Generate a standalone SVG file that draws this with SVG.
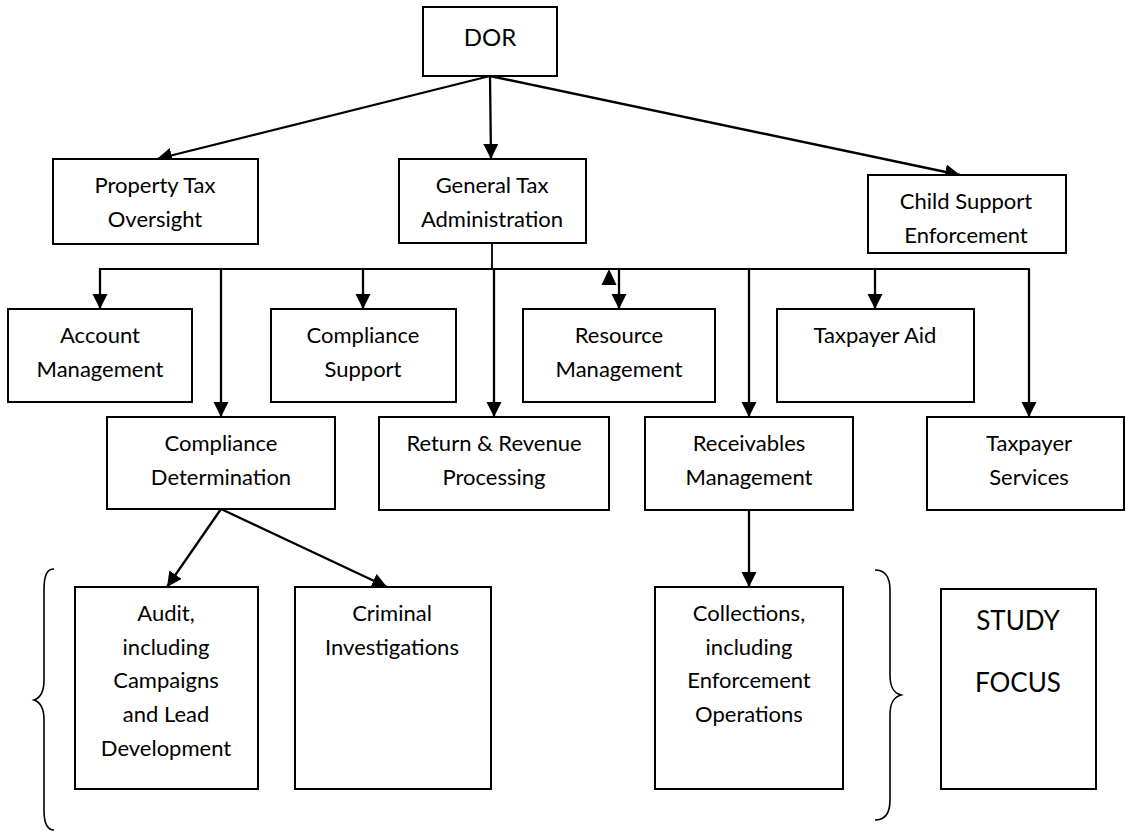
<svg xmlns="http://www.w3.org/2000/svg" width="1126" height="831" viewBox="0 0 1126 831">
  <defs>
    <marker id="arrow" markerUnits="userSpaceOnUse" markerWidth="16" markerHeight="16" refX="15" refY="7.5" orient="auto">
      <path d="M0,0 L15,7.5 L0,15 z" fill="#000"/>
    </marker>
    <style>
      .box { fill: #fff; stroke: #000; stroke-width: 2; }
      .lbl { font-family: Lato, "Liberation Sans", sans-serif; font-size: 22px; fill: #000; text-anchor: middle; }
      .title { font-size: 24px; }
      .big { font-size: 26px; }
      .arr { fill: none; stroke: #000; stroke-width: 2.3; marker-end: url(#arrow); }
      .bus { fill: none; stroke: #000; stroke-width: 1.8; stroke-linecap: square; }
      .brace { fill: none; stroke: #000; stroke-width: 1.6; }
    </style>
  </defs>
  <rect width="1126" height="831" fill="#fff"/>

  <!-- connectors -->
  <g id="connectors">
    <line class="arr" x1="490" y1="76" x2="157" y2="159"/>
    <line class="arr" x1="490" y1="76" x2="491" y2="159"/>
    <line class="arr" x1="490" y1="76" x2="960" y2="175"/>
    <line class="bus" x1="492" y1="243" x2="492" y2="269"/>
    <line class="bus" x1="100" y1="269" x2="1029" y2="269"/>
    <line class="arr" x1="100" y1="269" x2="100" y2="309"/>
    <line class="arr" x1="221" y1="269" x2="221" y2="417"/>
    <line class="arr" x1="363" y1="269" x2="363" y2="309"/>
    <line class="arr" x1="494" y1="269" x2="494" y2="417"/>
    <line class="arr" x1="619" y1="269" x2="619" y2="309"/>
    <line class="arr" x1="749" y1="269" x2="749" y2="417"/>
    <line class="arr" x1="875" y1="269" x2="875" y2="309"/>
    <line class="arr" x1="1029" y1="269" x2="1029" y2="417"/>
    <polygon points="609,269 601.5,285 616.5,285" fill="#000"/>
    <line class="arr" x1="221" y1="509" x2="167" y2="587"/>
    <line class="arr" x1="221" y1="509" x2="387" y2="587"/>
    <line class="arr" x1="749" y1="510" x2="749" y2="587"/>
  </g>

  <g id="dor">
    <rect class="box" x="423" y="7" width="134" height="69"/>
    <text class="lbl title" x="490" y="46">DOR</text>
  </g>
  <g id="property-tax">
    <rect class="box" x="53" y="159" width="205" height="85"/>
    <text class="lbl" x="155" y="193">Property Tax</text>
    <text class="lbl" x="155" y="227">Oversight</text>
  </g>
  <g id="general-tax">
    <rect class="box" x="399" y="159" width="187" height="84"/>
    <text class="lbl" x="492" y="193">General Tax</text>
    <text class="lbl" x="492" y="227">Administration</text>
  </g>
  <g id="child-support">
    <rect class="box" x="868" y="175" width="198" height="78"/>
    <text class="lbl" x="966" y="209">Child Support</text>
    <text class="lbl" x="966" y="243">Enforcement</text>
  </g>
  <g id="account-management">
    <rect class="box" x="8" y="309" width="184" height="93"/>
    <text class="lbl" x="100" y="343">Account</text>
    <text class="lbl" x="100" y="377">Management</text>
  </g>
  <g id="compliance-support">
    <rect class="box" x="271" y="309" width="185" height="93"/>
    <text class="lbl" x="363" y="343">Compliance</text>
    <text class="lbl" x="363" y="377">Support</text>
  </g>
  <g id="resource-management">
    <rect class="box" x="523" y="309" width="192" height="93"/>
    <text class="lbl" x="619" y="343">Resource</text>
    <text class="lbl" x="619" y="377">Management</text>
  </g>
  <g id="taxpayer-aid">
    <rect class="box" x="777" y="309" width="197" height="93"/>
    <text class="lbl" x="875" y="343">Taxpayer Aid</text>
  </g>
  <g id="compliance-determination">
    <rect class="box" x="107" y="417" width="228" height="92"/>
    <text class="lbl" x="221" y="451">Compliance</text>
    <text class="lbl" x="221" y="485">Determination</text>
  </g>
  <g id="return-revenue">
    <rect class="box" x="379" y="417" width="230" height="93"/>
    <text class="lbl" x="494" y="451">Return &amp; Revenue</text>
    <text class="lbl" x="494" y="485">Processing</text>
  </g>
  <g id="receivables">
    <rect class="box" x="645" y="417" width="208" height="93"/>
    <text class="lbl" x="749" y="451">Receivables</text>
    <text class="lbl" x="749" y="485">Management</text>
  </g>
  <g id="taxpayer-services">
    <rect class="box" x="927" y="417" width="197" height="93"/>
    <text class="lbl" x="1029" y="451">Taxpayer</text>
    <text class="lbl" x="1029" y="485">Services</text>
  </g>
  <g id="audit">
    <rect class="box" x="75" y="587" width="183" height="202"/>
    <text class="lbl" x="166" y="621">Audit,</text>
    <text class="lbl" x="166" y="655">including</text>
    <text class="lbl" x="166" y="688">Campaigns</text>
    <text class="lbl" x="166" y="722">and Lead</text>
    <text class="lbl" x="166" y="756">Development</text>
  </g>
  <g id="criminal">
    <rect class="box" x="295" y="587" width="196" height="202"/>
    <text class="lbl" x="392" y="621">Criminal</text>
    <text class="lbl" x="392" y="655">Investigations</text>
  </g>
  <g id="collections">
    <rect class="box" x="655" y="587" width="188" height="202"/>
    <text class="lbl" x="749" y="621">Collections,</text>
    <text class="lbl" x="749" y="655">including</text>
    <text class="lbl" x="749" y="688">Enforcement</text>
    <text class="lbl" x="749" y="722">Operations</text>
  </g>
  <g id="study-focus">
    <rect class="box" x="941" y="589" width="155" height="200"/>
    <text class="lbl big" x="1018" y="630">STUDY</text>
    <text class="lbl big" x="1018" y="692">FOCUS</text>
  </g>

  <!-- braces grouping the study area -->
  <g id="braces">
    <path class="brace" d="M54,569 C47,569 44,575 44,590 L44,680 C44,692 40,698 34,700 C40,702 44,708 44,720 L44,810 C44,824 47,830 54,830"/>
    <path class="brace" d="M875,570 C884,570 890,576 890,590 L890,675 C890,688 894,693 901,695 C894,697 890,702 890,715 L890,800 C890,814 884,820 875,820"/>
  </g>
</svg>
